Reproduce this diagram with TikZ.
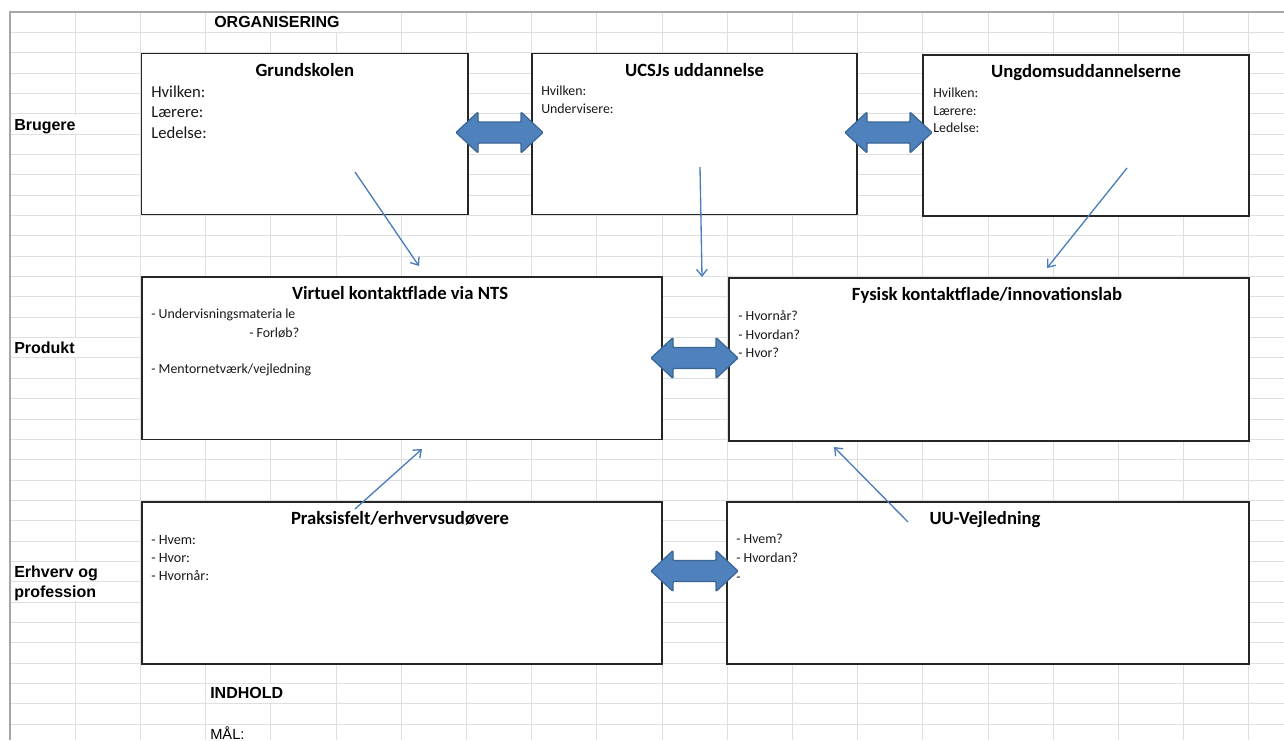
\documentclass[tikz,border=0pt]{standalone}
\usepackage{fontspec}
\setmainfont{Liberation Sans}
\newfontfamily\calib{Carlito}
\usetikzlibrary{arrows.meta,fit,calc}
\definecolor{gridc}{HTML}{DEDFE0}
\definecolor{gridd}{HTML}{A6A6A6}
\definecolor{blkfill}{HTML}{4F81BD}
\definecolor{blkline}{HTML}{3A6694}
\definecolor{thinc}{HTML}{4A7EBB}
\begin{document}
\begin{tikzpicture}[x=0.75pt,y=-0.75pt,
  box/.style={draw=black!85, line width=1pt, fill=white, inner sep=0pt},
  ttl/.style={inner sep=0pt, anchor=center, text height={0.64*14pt}, text depth=0pt,
    font=\calib\bfseries\fontsize{14pt}{14pt}\selectfont},
  bt/.style={inner sep=0pt, anchor=west, text height={0.64*#1pt}, text depth=0pt,
    font=\calib\fontsize{#1pt}{#1pt}\selectfont, text=black!90},
  lab/.style={inner sep=0pt, anchor=west, text height={0.72*12pt}, text depth=0pt,
    font=\bfseries\fontsize{12pt}{12pt}\selectfont},
  labr/.style={inner sep=0pt, anchor=west, text height={0.72*11pt}, text depth=0pt,
    font=\fontsize{11pt}{11pt}\selectfont},
  thinarr/.style={draw=thinc, line width=1pt, -{Straight Barb[length=5pt,width=8pt]}},
  blk/.style={fill=blkfill, draw=blkline, line width=0.9pt, rounded corners=0.8pt}
]
\useasboundingbox (0,0) rectangle (1284,740);
\fill[white] (0,0) rectangle (1284,740);
% grid
\foreach \k in {0,...,19}
  \draw[gridc, line width=0.75pt] ({10+65.2*\k},12) -- ({10+65.2*\k},740);
\foreach \k in {0,...,35}
  \draw[gridc, line width=0.75pt] (10,{12+20.35*\k}) -- (1284,{12+20.35*\k});
\foreach \c/\r in {4/0,5/0,1/5,1/16,1/27,1/28,4/33}
  \fill[white] ({10+65.2*\c-1.5},{12+20.35*\r+0.8}) rectangle ({10+65.2*\c+1.5},{12+20.35*(\r+1)-0.8});
\draw[gridd, line width=1.1pt] (1284,12) -- (10,12) -- (10,740);

% side labels
\node[lab] (org) at (214,22) {ORGANISERING};
\node[lab] (bru) at (14,125) {Brugere};
\node[lab] (pro) at (14,348) {Produkt};
\node[lab] (erh1) at (14,572) {Erhverv og};
\node[lab] (erh2) at (14,592) {profession};
\node[lab] (ind) at (210,693) {INDHOLD};
\node[labr] (mal) at (210,734) {MÅL:};

% boxes
\coordinate (g1) at (141.5,53.5); \coordinate (g2) at (468,214.5);
\coordinate (u1) at (532,53.5);   \coordinate (u2) at (857,214.5);
\coordinate (y1) at (923,55);     \coordinate (y2) at (1249,216);
\coordinate (v1) at (142,277);    \coordinate (v2) at (662,439.5);
\coordinate (f1) at (729,278);    \coordinate (f2) at (1249,441);
\coordinate (p1) at (142,502);    \coordinate (p2) at (662,664);
\coordinate (w1) at (727,502);    \coordinate (w2) at (1249,664);
\node[box, fit=(g1)(g2)] (g) {};
\node[box, fit=(u1)(u2)] (u) {};
\node[box, fit=(y1)(y2)] (y) {};
\node[box, fit=(v1)(v2)] (v) {};
\node[box, fit=(f1)(f2)] (f) {};
\node[box, fit=(p1)(p2)] (p) {};
\node[box, fit=(w1)(w2)] (w) {};

% titles
\node[ttl] (gt) at ($(g.north)+(0,17.5)$) {Grundskolen};
\node[ttl] (ut) at ($(u.north)+(0,17.5)$) {UCSJs uddannelse};
\node[ttl] (yt) at ($(y.north)+(0,17)$) {Ungdomsuddannelserne};
\node[ttl] (vt) at ($(v.north)+(-2,17)$) {Virtuel kontaktflade via NTS};
\node[ttl] (ft) at ($(f.north)+(-2,17)$) {Fysisk kontaktflade/innovationslab};
\node[ttl] (pt) at ($(p.north)+(-2,17)$) {Praksisfelt/erhvervsudøvere};
\node[ttl] (wt) at ($(w.north)+(-3,17)$) {UU-Vejledning};

% body texts
\node[bt=12.5] (g_a) at (151,92) {Hvilken:};
\node[bt=12.5] (g_b) at (151,112.5) {Lærere:};
\node[bt=12.5] (g_c) at (151,133) {Ledelse:};

\node[bt=10.4] (u_a) at (541,91) {Hvilken:};
\node[bt=10.4] (u_b) at (541,109) {Undervisere:};

\node[bt=10.4] (y_a) at (933,93) {Hvilken:};
\node[bt=10.4] (y_b) at (933,111) {Lærere:};
\node[bt=10.4] (y_c) at (933,128) {Ledelse:};

\node[bt=10.4] (v_a) at (151,314) {- Undervisningsmateria le};
\node[bt=10.4] (v_b) at (249,333) {- Forløb?};
\node[bt=10.4] (v_c) at (151,369) {- Mentornetværk/vejledning};

\node[bt=10.4] (f_a) at (738,316) {- Hvornår?};
\node[bt=10.4] (f_b) at (738,335) {- Hvordan?};
\node[bt=10.4] (f_c) at (738,353) {- Hvor?};

\node[bt=10.6] (p_a) at (151,540) {- Hvem:};
\node[bt=10.6] (p_b) at (151,558) {- Hvor:};
\node[bt=10.6] (p_c) at (151,576) {- Hvornår:};

\node[bt=10.4] (w_a) at (736,539) {- Hvem?};
\node[bt=10.4] (w_b) at (736,558) {- Hvordan?};
\node[bt=10.4] (w_c) at (736,577) {-};

% double block arrows
\foreach \n/\cx/\cy in {d1/499.5/132.5, d2/888.5/132.5, d3/694.5/358, d4/694.5/571}{
  \coordinate (\n) at (\cx,\cy);
  \draw[blk, shift={(\n)}] (-43.5,0) -- (-21.5,-20.5) -- (-21.5,-10.5) -- (21.5,-10.5)
    -- (21.5,-20.5) -- (43.5,0) -- (21.5,20.5) -- (21.5,10.5) -- (-21.5,10.5)
    -- (-21.5,20.5) -- cycle;
}

% thin arrows
\coordinate (a1s) at (355,172);  \coordinate (a1e) at (419,266);
\coordinate (a2s) at (700,167);  \coordinate (a2e) at (702,277);
\coordinate (a3s) at (1127,168); \coordinate (a3e) at (1047,268);
\coordinate (a4s) at (355,509);  \coordinate (a4e) at (422,449);
\coordinate (a5s) at (908,522);  \coordinate (a5e) at (834,447);
\draw[thinarr] (a1s) -- (a1e);
\draw[thinarr] (a2s) -- (a2e);
\draw[thinarr] (a3s) -- (a3e);
\draw[thinarr] (a4s) -- (a4e);
\draw[thinarr] (a5s) -- (a5e);
\end{tikzpicture}
\end{document}
